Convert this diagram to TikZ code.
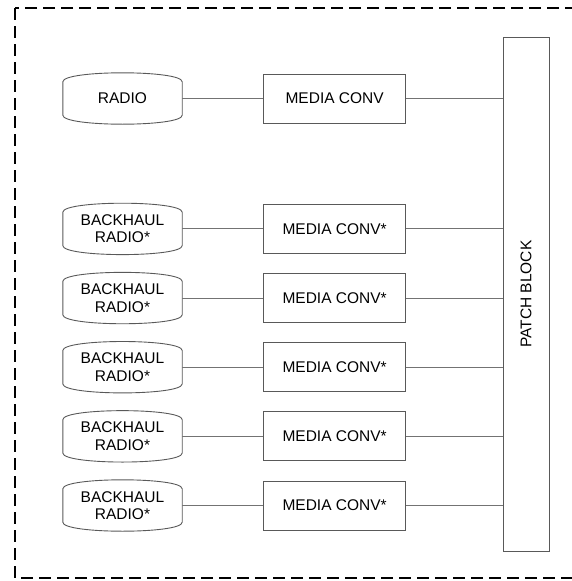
\documentclass[tikz,border=0pt]{standalone}
\usepackage{fontspec}
\setmainfont{Liberation Sans}
\usetikzlibrary{positioning}

\begin{document}
\begin{tikzpicture}[
      x=1pt, y=-1pt,
      font=\fontsize{15.5}{17.5}\selectfont,
      node distance=17.75pt,
      radio/.style={minimum width=119pt, minimum height=51pt, inner sep=0pt, align=center},
      conv/.style={draw=black!65, line width=0.9pt, minimum width=142pt, minimum height=49pt, inner sep=0pt, align=center},
      patch/.style={draw=black!65, line width=0.9pt, minimum width=46pt, minimum height=514pt, inner sep=0pt},
      link/.style={draw=black!55, line width=0.9pt},
      outline/.style={draw=black!65, line width=0.9pt},
      border/.style={draw=black, line width=1.8pt, dash pattern=on 12pt off 6pt}
    ]
    \useasboundingbox (0,0) rectangle (572,581);
    \draw[border] (15,8) rectangle (590,578);

    \node[radio]                    (r)  at (122.5,98.5) {RADIO};
    \node[conv, right=81pt of r]    (c)  {MEDIA CONV};
    \node[radio, below=79pt of r]   (b1) {BACKHAUL\\RADIO*};
    \node[radio, below=of b1]       (b2) {BACKHAUL\\RADIO*};
    \node[radio, below=of b2]       (b3) {BACKHAUL\\RADIO*};
    \node[radio, below=of b3]       (b4) {BACKHAUL\\RADIO*};
    \node[radio, below=of b4]       (b5) {BACKHAUL\\RADIO*};
    \node[conv, right=81pt of b1]   (c1) {MEDIA CONV*};
    \node[conv, right=81pt of b2]   (c2) {MEDIA CONV*};
    \node[conv, right=81pt of b3]   (c3) {MEDIA CONV*};
    \node[conv, right=81pt of b4]   (c4) {MEDIA CONV*};
    \node[conv, right=81pt of b5]   (c5) {MEDIA CONV*};
    \node[patch] (p) at (526,294) {\rotatebox{90}{PATCH BLOCK}};

    % radio outlines: flat sides, bulging top and bottom
    \foreach \n in {r,b1,b2,b3,b4,b5}
      \draw[outline] ([yshift=-9pt]\n.north west) .. controls ([yshift=3pt]\n.north west) and ([yshift=3pt]\n.north east) .. ([yshift=-9pt]\n.north east)
        -- ([yshift=9pt]\n.south east) .. controls ([yshift=-3pt]\n.south east) and ([yshift=-3pt]\n.south west) .. ([yshift=9pt]\n.south west) -- cycle;

    \foreach \a/\b in {r/c,b1/c1,b2/c2,b3/c3,b4/c4,b5/c5} {
      \draw[link] (\a) -- (\b);
      \draw[link] (\b.east) -- (\b.east -| p.west);
    }
  \end{tikzpicture}
\end{document}
